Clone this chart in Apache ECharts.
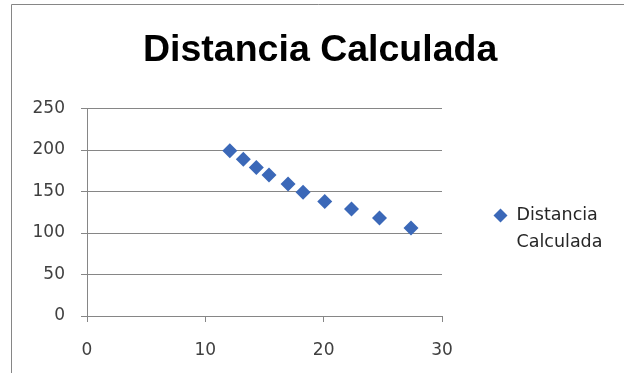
<!DOCTYPE html>
<html>
<head>
<meta charset="utf-8">
<script src="https://cdn.jsdelivr.net/npm/echarts@6/dist/echarts.min.js"></script>
<style>html,body{margin:0;padding:0;background:#fff}#c{width:624px;height:373px}</style>
</head>
<body>
<div id="c"></div>
<script>
var titleText = "Distancia Calculada";
var seriesName = "Distancia Calculada";
var xValues = [12.07, 13.21, 14.31, 15.38, 16.99, 18.26, 20.09, 22.35, 24.72, 27.38];
var yValues = [199, 189, 179, 170, 159, 149, 138, 129, 118, 106];
var xTicks = [0, 10, 20, 30];
var yTicks = [0, 50, 100, 150, 200, 250];

var points = xValues.map(function (x, i) { return [x, yValues[i]]; });
var chart = echarts.init(document.getElementById('c'), null, {renderer: 'canvas'});
var grey = '#868686';
var legendFont = {fontFamily: 'DejaVu Sans', fontSize: 17.5, color: '#262626', lineHeight: 27, padding: [0, 0, 0, 4]};
chart.setOption({
  backgroundColor: '#fff',
  animation: false,
  graphic: [{
    type: 'rect', silent: true, z: -10,
    shape: {x: 11.5, y: 4.5, width: 800, height: 600},
    style: {fill: '#fff', stroke: grey, lineWidth: 1}
  }],
  title: {
    text: titleText, left: 138, top: 27,
    textStyle: {fontFamily: 'Liberation Sans', fontWeight: 'bold', fontSize: 37.5, color: '#000'}
  },
  legend: {
    left: 488.5, top: 170, orient: 'vertical',
    itemWidth: 14, itemHeight: 14,
    icon: 'diamond',
    formatter: function () { return '{a| }\n{a|Distancia}\n{a|Calculada}'; },
    textStyle: {fontFamily: 'DejaVu Sans', fontSize: 17.5, color: '#262626', lineHeight: 27, rich: {a: legendFont}}
  },
  grid: {left: 87, right: 182, top: 108.5, bottom: 57, containLabel: false},
  xAxis: {
    type: 'value', min: xTicks[0], max: xTicks[xTicks.length - 1], interval: 10,
    axisLine: {show: true, lineStyle: {color: grey, width: 1}},
    axisTick: {show: true, inside: false, length: 6, lineStyle: {color: grey}},
    splitLine: {show: false},
    axisLabel: {margin: 26, fontFamily: 'DejaVu Sans', fontSize: 17, color: '#404040'}
  },
  yAxis: {
    type: 'value', min: yTicks[0], max: yTicks[yTicks.length - 1], interval: 50,
    axisLine: {show: true, lineStyle: {color: grey, width: 1}},
    axisTick: {show: true, inside: false, length: 6, lineStyle: {color: grey}},
    splitLine: {show: true, lineStyle: {color: grey, width: 1}},
    axisLabel: {margin: 22, fontFamily: 'DejaVu Sans', fontSize: 17, color: '#404040'}
  },
  series: [{
    name: seriesName, type: 'scatter', symbol: 'diamond', symbolSize: 15,
    itemStyle: {color: '#3b68b8', opacity: 1},
    data: points
  }]
});
</script>
</body>
</html>
